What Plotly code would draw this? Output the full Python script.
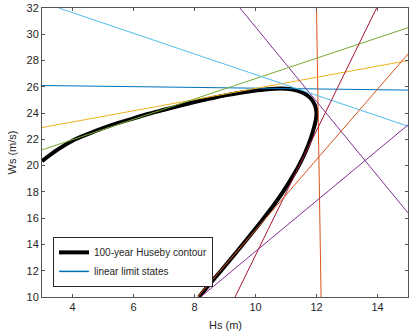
import plotly.graph_objects as go

# 100-year Huseby contour (Hs in m, Ws in m/s)
hs_contour = [3.0, 3.5, 4.0, 4.5, 5.0, 5.5, 6.0, 6.5, 7.0, 7.5, 8.0, 8.5, 9.0, 9.5, 10.0,
              10.5, 11.0, 11.3, 11.6, 11.8, 11.95, 12.0, 11.98, 11.93, 11.8, 11.63, 11.42,
              11.17, 10.9, 10.6, 10.27, 9.93, 9.58, 9.23, 8.87, 8.5, 8.15]
ws_contour = [20.35, 21.2, 21.9, 22.4, 22.85, 23.25, 23.6, 23.95, 24.25, 24.55, 24.85, 25.1,
              25.35, 25.55, 25.72, 25.84, 25.85, 25.75, 25.5, 25.15, 24.6, 24.0, 23.5, 23.0,
              22.0, 21.0, 20.0, 19.0, 18.0, 17.0, 16.0, 15.0, 14.0, 13.0, 12.0, 11.0, 10.0]

# linear limit states: start and end points
ls_hs_start = [3.0, 12.0, 3.0, 9.49, 3.0, 3.55, 9.33, 8.1, 8.2]
ls_ws_start = [26.1, 32.0, 22.9, 32.0, 21.2, 32.0, 10.0, 10.0, 10.0]
ls_hs_end = [15.0, 12.15, 15.0, 15.0, 15.0, 15.0, 13.97, 15.0, 15.0]
ls_ws_end = [25.75, 10.0, 28.0, 16.4, 30.5, 23.0, 32.0, 28.5, 23.1]
ls_colors = ["#0072BD", "#D95319", "#EDB120", "#7E2F8E", "#77AC30", "#4DBEEE",
             "#A2142F", "#D95319", "#7E2F8E"]

x_ticks = [4, 6, 8, 10, 12, 14]
y_ticks = list(range(10, 33, 2))

fig = go.Figure()
fig.add_trace(go.Scatter(x=hs_contour, y=ws_contour, mode="lines",
                         line=dict(color="black", width=4, shape="spline", smoothing=1),
                         name="100-year Huseby contour"))
for i in range(len(ls_colors)):
    fig.add_trace(go.Scatter(x=[ls_hs_start[i], ls_hs_end[i]],
                             y=[ls_ws_start[i], ls_ws_end[i]], mode="lines",
                             line=dict(color=ls_colors[i], width=1),
                             name="linear limit states", showlegend=False))
# legend entry for the limit states
fig.add_trace(go.Scatter(x=[None], y=[None], mode="lines",
                         line=dict(color=ls_colors[0], width=1.5),
                         name="linear limit states"))

axis_common = dict(showline=True, linecolor="#555555", linewidth=1, mirror="ticks",
                   ticks="inside", ticklen=3, tickcolor="#555555", showgrid=False,
                   zeroline=False, automargin=False,
                   tickfont=dict(size=11, color="#262626"))
fig.update_xaxes(range=[3, 15], tickvals=x_ticks, **axis_common)
fig.update_yaxes(range=[10, 32], tickvals=y_ticks, **axis_common)
fig.add_annotation(text="Hs (m)", xref="paper", yref="paper", x=0.5, y=-0.097,
                   xanchor="center", yanchor="middle", showarrow=False,
                   font=dict(size=11, color="#262626"))
fig.add_annotation(text="Ws (m/s)", xref="paper", yref="paper", x=-0.082, y=0.5,
                   xanchor="center", yanchor="middle", showarrow=False, textangle=-90,
                   font=dict(size=11, color="#262626"))
fig.update_layout(
    width=414, height=334,
    margin=dict(l=42, r=6, t=8, b=37, autoexpand=False),
    plot_bgcolor="white", paper_bgcolor="white",
    font=dict(family="Liberation Sans, Arial, sans-serif", size=11, color="#262626"),
    legend=dict(x=0.03, y=0.035, xanchor="left", yanchor="bottom",
                bgcolor="white", bordercolor="#262626", borderwidth=1,
                font=dict(size=10), tracegroupgap=0, itemwidth=30),
)
fig.write_html("out.html", config={"displayModeBar": False},
               post_script="document.body.style.margin='0';document.body.style.overflow='hidden';")
